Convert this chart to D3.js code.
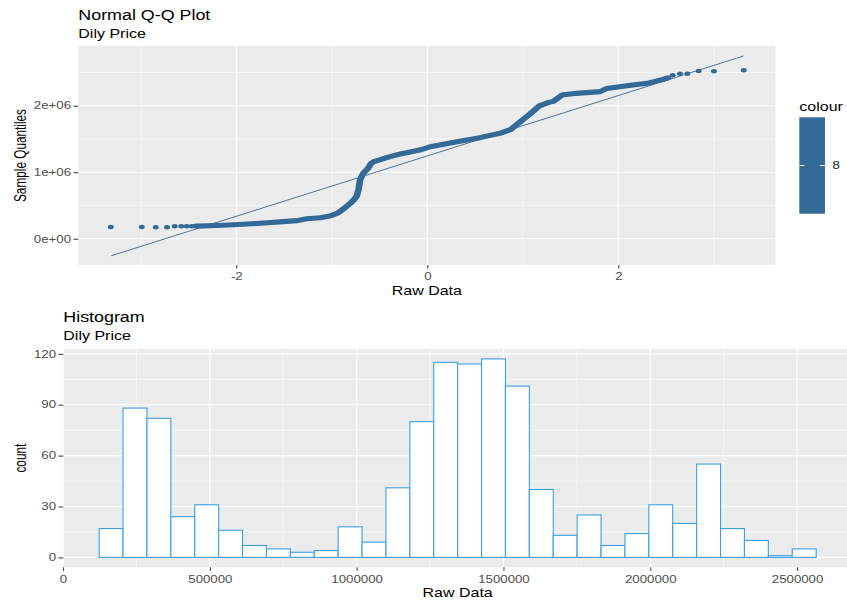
<!DOCTYPE html>
<html>
<head>
<meta charset="utf-8">
<script src="https://cdn.jsdelivr.net/npm/d3@7"></script>
<style>
  html, body { margin: 0; padding: 0; background: #ffffff; }
  svg { display: block; font-family: "Liberation Sans", Arial, sans-serif; }
</style>
</head>
<body>
<svg id="chart" width="847" height="603"></svg>
<script>
// ---------- Q-Q plot data (theoretical quantile vs sample quantile) ----------
// Dense central run of sample quantiles
const qqTheory = [-2.42, -2.20, -2.03, -1.75, -1.54, -1.37, -1.26, -1.12, -1.02, -0.93,
  -0.86, -0.80, -0.76, -0.74, -0.72, -0.705, -0.687, -0.67, -0.62, -0.59, -0.56, -0.50,
  -0.40, -0.28, -0.08, 0.03, 0.13, 0.31, 0.55, 0.76, 0.87, 0.97, 1.075, 1.17, 1.27, 1.32,
  1.41, 1.56, 1.81, 1.88, 2.09, 2.30, 2.47, 2.52];
const qqSample = [190000, 200000, 210000, 233000, 254000, 272000, 300000, 316000, 342000, 392000,
  470000, 540000, 600000, 640000, 740000, 880000, 940000, 985000, 1060000, 1130000, 1160000, 1185000,
  1230000, 1275000, 1334000, 1383000, 1410000, 1459000, 1520000, 1585000, 1640000, 1755000, 1875000, 1995000, 2050000, 2065000,
  2160000, 2186000, 2212000, 2260000, 2300000, 2337000, 2397000, 2420000];
// Isolated points in both tails
const tailTheory = [-3.315, -2.99, -2.844, -2.726, -2.645, -2.576, -2.52, -2.467,
  2.57, 2.646, 2.723, 2.842, 3.002, 3.313];
const tailSample = [176000, 176000, 171000, 171000, 186000, 186000, 186000, 188000,
  2457000, 2481000, 2481000, 2522000, 2517000, 2532000];
// Reference line end points
const lineTheory = [-3.31, 3.31];
const lineSample = [-256000, 2747000];

const qqXTicks = [-2, 0, 2];
const qqXLabels = ["-2", "0", "2"];
const qqXMinor = [-3, -1, 1, 3];
const qqYTicks = [0, 1000000, 2000000];
const qqYLabels = ["0e+00", "1e+06", "2e+06"];
const qqYMinor = [500000, 1500000, 2500000];
const legendValues = [8];

// ---------- Histogram data ----------
const binEdges = [122960, 204360, 285760, 367160, 448560, 529960, 611360, 692760, 774160, 855560,
  936960, 1018360, 1099760, 1181160, 1262560, 1343960, 1425360, 1506760, 1588160, 1669560,
  1750960, 1832360, 1913760, 1995160, 2076560, 2157960, 2239360, 2320760, 2402160, 2483560, 2564960];
const binCounts = [17, 88, 82, 24, 31, 16, 7, 5, 3, 4, 18, 9, 41, 80, 115, 114, 117, 101, 40, 13,
  25, 7, 14, 31, 20, 55, 17, 10, 1, 5];

const histXTicks = [0, 500000, 1000000, 1500000, 2000000, 2500000];
const histXLabels = ["0", "500000", "1000000", "1500000", "2000000", "2500000"];
const histXMinor = [250000, 750000, 1250000, 1750000, 2250000];
const histYTicks = [0, 30, 60, 90, 120];
const histYMinor = [15, 45, 75, 105];

// ---------- styling ----------
const PANEL_BG = "#ebebeb";
const POINT_COL = "#336a98";
const BAR_COL = "#3a9fe6";
const TICK_TXT = "#4d4d4d";
const TICK_COL = "#333333";
const SX = 1.3;          // horizontal glyph stretch used throughout the figure
const TICK_SIZE = 10.2;
const TITLE_SIZE = 12.6;

const svg = d3.select("#chart");
svg.append("rect").attr("width", 847).attr("height", 603).attr("fill", "#ffffff");

function label(parent, x, y, s, o) {
  const g = parent.append("g")
    .attr("transform", `translate(${x},${y}) scale(${o.sx},1)` + (o.rotate ? " rotate(-90)" : ""));
  g.append("text")
    .attr("text-anchor", o.anchor || "start")
    .attr("font-size", o.size)
    .attr("fill", o.fill || "#000000")
    .text(s);
  return g;
}

function grid(g, xs, ys, xMajor, xMinor, yMajor, yMinor, box) {
  xMinor.forEach(v => g.append("line").attr("x1", xs(v)).attr("x2", xs(v))
    .attr("y1", box.top).attr("y2", box.bottom).attr("stroke", "#fff").attr("stroke-width", 0.55));
  yMinor.forEach(v => g.append("line").attr("y1", ys(v)).attr("y2", ys(v))
    .attr("x1", box.left).attr("x2", box.right).attr("stroke", "#fff").attr("stroke-width", 0.55));
  xMajor.forEach(v => g.append("line").attr("x1", xs(v)).attr("x2", xs(v))
    .attr("y1", box.top).attr("y2", box.bottom).attr("stroke", "#fff").attr("stroke-width", 1.1));
  yMajor.forEach(v => g.append("line").attr("y1", ys(v)).attr("y2", ys(v))
    .attr("x1", box.left).attr("x2", box.right).attr("stroke", "#fff").attr("stroke-width", 1.1));
}

function styleAxis(sel, side) {
  sel.select(".domain").remove();
  sel.selectAll(".tick line").attr("stroke", TICK_COL).attr("stroke-width", 1);
  sel.selectAll(".tick text")
    .attr("font-size", TICK_SIZE)
    .attr("font-family", "'Liberation Sans', Arial, sans-serif")
    .attr("fill", TICK_TXT);
  if (side === "left") {
    sel.selectAll(".tick text").attr("x", -7.3 / SX).attr("transform", `scale(${SX},1)`);
  } else {
    sel.selectAll(".tick text").attr("transform", `scale(${SX},1)`);
  }
}

// =================== Q-Q plot ===================
const qqBox = { left: 78.3, right: 775.4, top: 46, bottom: 265 };
const qx = d3.scaleLinear().domain([-3.655, 3.645]).range([qqBox.left, qqBox.right]);
const qy = d3.scaleLinear().domain([-395000, 2898000]).range([qqBox.bottom, qqBox.top]);

const qqG = svg.append("g");
qqG.append("rect").attr("x", qqBox.left).attr("y", qqBox.top)
  .attr("width", qqBox.right - qqBox.left).attr("height", qqBox.bottom - qqBox.top)
  .attr("fill", PANEL_BG);
grid(qqG, qx, qy, qqXTicks, qqXMinor, qqYTicks, qqYMinor, qqBox);

qqG.append("defs").append("clipPath").attr("id", "qqClip").append("rect")
  .attr("x", qqBox.left).attr("y", qqBox.top)
  .attr("width", qqBox.right - qqBox.left).attr("height", qqBox.bottom - qqBox.top);

const qqLayer = qqG.append("g").attr("clip-path", "url(#qqClip)");

// reference line
qqLayer.append("path")
  .datum(lineTheory.map((t, i) => [t, lineSample[i]]))
  .attr("d", d3.line().x(d => qx(d[0])).y(d => qy(d[1])))
  .attr("fill", "none").attr("stroke", POINT_COL).attr("stroke-width", 0.9);

// sample points: drawn in a horizontally stretched frame so marks keep the figure's aspect
const pts = qqLayer.append("g").attr("transform", `scale(${SX},1)`);
pts.append("path")
  .datum(qqTheory.map((t, i) => [t, qqSample[i]]))
  .attr("d", d3.line().x(d => qx(d[0]) / SX).y(d => qy(d[1])))
  .attr("fill", "none").attr("stroke", POINT_COL)
  .attr("stroke-width", 5.1).attr("stroke-linecap", "round").attr("stroke-linejoin", "round");
pts.selectAll("circle.tail")
  .data(tailTheory.map((t, i) => [t, tailSample[i]]))
  .join("circle").attr("class", "tail")
  .attr("cx", d => qx(d[0]) / SX).attr("cy", d => qy(d[1]))
  .attr("r", 2.25).attr("fill", POINT_COL);

// axes
const qAxisL = qqG.append("g").attr("transform", `translate(${qqBox.left},0)`)
  .call(d3.axisLeft(qy).tickValues(qqYTicks).tickFormat((d, i) => qqYLabels[i]).tickSize(4.8).tickPadding(2));
styleAxis(qAxisL, "left");
const qAxisB = qqG.append("g").attr("transform", `translate(0,${qqBox.bottom})`)
  .call(d3.axisBottom(qx).tickValues(qqXTicks).tickFormat((d, i) => qqXLabels[i]).tickSize(3.5).tickPadding(4.6));
styleAxis(qAxisB, "bottom");

// titles
label(qqG, qqBox.left, 20, "Normal Q-Q Plot", { size: 14.9, sx: 1.2 });
label(qqG, qqBox.left, 38.3, "Dily Price", { size: TITLE_SIZE, sx: 1.27 });
label(qqG, (qqBox.left + qqBox.right) / 2, 295.2, "Raw Data", { size: TITLE_SIZE, sx: 1.27, anchor: "middle" });
label(qqG, 25.5, (qqBox.top + qqBox.bottom) / 2, "Sample Quantiles", { size: 11.8, sx: 1.35, anchor: "middle", rotate: true });

// colour legend
const leg = qqG.append("g");
label(leg, 799.3, 110.7, "colour", { size: TITLE_SIZE, sx: 1.27 });
const barTop = 117.3, barBottom = 213.7, barLeft = 799.3, barRight = 825;
leg.append("rect").attr("x", barLeft).attr("y", barTop)
  .attr("width", barRight - barLeft).attr("height", barBottom - barTop).attr("fill", POINT_COL);
const legScale = d3.scaleLinear().domain([7, 9]).range([barBottom, barTop]);
legendValues.forEach(v => {
  const yy = legScale(v);
  leg.append("line").attr("x1", barLeft).attr("x2", barLeft + 5).attr("y1", yy).attr("y2", yy)
    .attr("stroke", "#ffffff").attr("stroke-width", 1);
  leg.append("line").attr("x1", barRight - 5).attr("x2", barRight).attr("y1", yy).attr("y2", yy)
    .attr("stroke", "#ffffff").attr("stroke-width", 1);
  label(leg, 832.5, yy + 3.6, String(v), { size: TICK_SIZE, sx: SX, fill: "#1a1a1a" });
});

// =================== Histogram ===================
const hBox = { left: 63.3, right: 852, top: 349, bottom: 567.3 };
const hx = d3.scaleLinear().domain([858, 2687102]).range([hBox.left, hBox.right]);
const hy = d3.scaleLinear().domain([-5.85, 122.85]).range([hBox.bottom, hBox.top]);

const histG = svg.append("g");
histG.append("rect").attr("x", hBox.left).attr("y", hBox.top)
  .attr("width", hBox.right - hBox.left).attr("height", hBox.bottom - hBox.top)
  .attr("fill", PANEL_BG);
grid(histG, hx, hy, histXTicks, histXMinor, histYTicks, histYMinor, hBox);

const bins = binCounts.map((c, i) => ({ x0: binEdges[i], x1: binEdges[i + 1], n: c }));
histG.selectAll("rect.bar").data(bins).join("rect").attr("class", "bar")
  .attr("x", d => hx(d.x0)).attr("width", d => hx(d.x1) - hx(d.x0))
  .attr("y", d => hy(d.n)).attr("height", d => hy(0) - hy(d.n))
  .attr("fill", "#ffffff").attr("stroke", BAR_COL).attr("stroke-width", 1.1);

const hAxisL = histG.append("g").attr("transform", `translate(${hBox.left},0)`)
  .call(d3.axisLeft(hy).tickValues(histYTicks).tickSize(4.8).tickPadding(2));
styleAxis(hAxisL, "left");
const hAxisB = histG.append("g").attr("transform", `translate(0,${hBox.bottom})`)
  .call(d3.axisBottom(hx).tickValues(histXTicks).tickFormat((d, i) => histXLabels[i]).tickSize(3.5).tickPadding(4.6));
styleAxis(hAxisB, "bottom");

label(histG, hBox.left, 321.7, "Histogram", { size: 14.9, sx: 1.2 });
label(histG, hBox.left, 340, "Dily Price", { size: TITLE_SIZE, sx: 1.27 });
label(histG, (hBox.left + hBox.right) / 2, 597.2, "Raw Data", { size: TITLE_SIZE, sx: 1.27, anchor: "middle" });
label(histG, 25.5, (hBox.top + hBox.bottom) / 2, "count", { size: 11.8, sx: 1.35, anchor: "middle", rotate: true });
</script>
</body>
</html>
